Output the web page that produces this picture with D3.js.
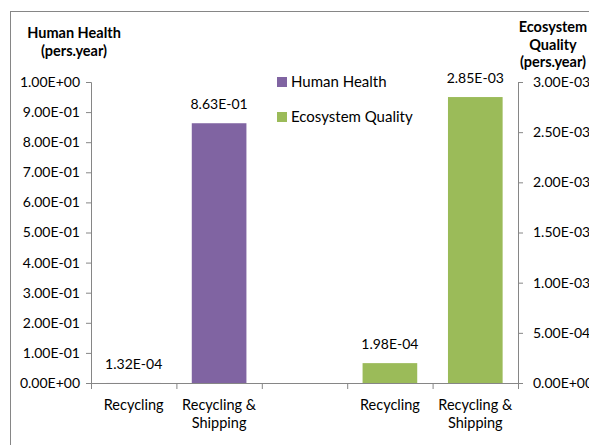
<!DOCTYPE html>
<html>
<head>
<meta charset="utf-8">
<script src="https://cdn.jsdelivr.net/npm/d3@7"></script>
<style>
  body { margin: 0; background: #fff; }
  text { font-family: Lato, "Open Sans", sans-serif; fill: #000; }
</style>
</head>
<body>
<svg id="chart" width="589" height="445"></svg>
<script>
    // data
    var slots = ["s1", "s2", "gap", "s4", "s5"];
    var slotLabels = [["Recycling"], ["Recycling &", "Shipping"], [""], ["Recycling"], ["Recycling &", "Shipping"]];
    var hhSlots = ["s1", "s2"];
    var hhValues = [1.32e-4, 0.863];
    var eqSlots = ["s4", "s5"];
    var eqValues = [1.98e-4, 2.85e-3];
    var leftTicks = [0, 0.1, 0.2, 0.3, 0.4, 0.5, 0.6, 0.7, 0.8, 0.9, 1.0];
    var rightTicks = [0, 5e-4, 1e-3, 1.5e-3, 2e-3, 2.5e-3, 3e-3];
    var seriesNames = ["Human Health", "Ecosystem Quality"];
    var colors = ["#8064A2", "#9BBB59"];

    var margin = { top: 82, bottom: 62, left: 91, right: 71 };
    var svg = d3.select("#chart");
    var w = +svg.attr("width");
    var h = +svg.attr("height");
    var width = w - margin.left - margin.right;
    var height = h - margin.top - margin.bottom;

    // Excel style scientific labels: 1.00E+00
    function sci(v) {
        var s = v.toExponential(2).split("e");
        var exp = +s[1];
        return s[0] + "E" + (exp < 0 ? "-" : "+") + (Math.abs(exp) < 10 ? "0" : "") + Math.abs(exp);
    }

    // chart frame
    svg.append("rect")
        .attr("x", 10.5).attr("y", 11.5)
        .attr("width", 700).attr("height", 500)
        .attr("fill", "none").attr("stroke", "#868686");

    var chart = svg.append("g")
        .attr("transform", "translate(" + margin.left + "," + margin.top + ")");

    var x = d3.scaleBand().domain(slots).range([0, width]).paddingInner(0.36).paddingOuter(0.18);
    var xTicks = d3.scaleBand().domain(slots).range([0, width]);
    var yL = d3.scaleLinear().domain([0, 1]).range([height, 0]);
    var yR = d3.scaleLinear().domain([0, 3e-3]).range([height, 0]);

    var axisColor = "#868686";

    // left axis
    var gl = chart.append("g").call(d3.axisLeft(yL).tickValues(leftTicks).tickFormat(sci).tickSize(5).tickPadding(6));
    // right axis
    var gr = chart.append("g").attr("transform", "translate(" + width + ",0)")
        .call(d3.axisRight(yR).tickValues(rightTicks).tickFormat(sci).tickSize(5).tickPadding(10));
    [gl, gr].forEach(function (g) {
        g.select(".domain").attr("stroke", axisColor);
        g.selectAll(".tick line").attr("stroke", axisColor);
        g.selectAll("text").style("font-family", "Lato, sans-serif").style("font-size", "14px").attr("fill", "#000");
    });

    // category axis
    var gx = chart.append("g").attr("transform", "translate(0," + height + ")");
    gx.append("line").attr("x1", 0).attr("x2", width).attr("y1", 0.5).attr("y2", 0.5).attr("stroke", axisColor);
    gx.selectAll(".ctick")
        .data(slots.concat(["end"]))
        .enter().append("line")
        .attr("x1", function (d, i) { return i * xTicks.step() + 0.5; })
        .attr("x2", function (d, i) { return i * xTicks.step() + 0.5; })
        .attr("y1", 0).attr("y2", 6)
        .attr("stroke", axisColor);
    gx.selectAll(".clabel")
        .data(slots)
        .enter().append("text")
        .attr("text-anchor", "middle")
        .attr("x", function (d) { return x(d) + x.bandwidth() / 2; })
        .attr("y", 27)
        .style("font-size", "14.5px")
        .each(function (d, i) {
            var t = d3.select(this);
            slotLabels[i].forEach(function (line, j) {
                t.append("tspan").attr("x", x(d) + x.bandwidth() / 2).attr("dy", j === 0 ? 0 : 18).text(line);
            });
        });

    // bars
    function drawSeries(keys, values, scale, color) {
        var data = keys.map(function (k, i) { return { key: k, value: values[i] }; });
        chart.selectAll(null).data(data).enter().append("rect")
            .attr("x", function (d) { return x(d.key); })
            .attr("y", function (d) { return scale(d.value); })
            .attr("width", x.bandwidth())
            .attr("height", function (d) { return height - scale(d.value); })
            .attr("fill", color);
        chart.selectAll(null).data(data).enter().append("text")
            .attr("text-anchor", "middle")
            .attr("x", function (d) { return x(d.key) + x.bandwidth() / 2; })
            .attr("y", function (d) { return scale(d.value) - 14; })
            .style("font-size", "14px")
            .text(function (d) { return sci(d.value); });
    }
    drawSeries(hhSlots, hhValues, yL, colors[0]);
    drawSeries(eqSlots, eqValues, yR, colors[1]);

    // legend
    var legend = svg.append("g").attr("transform", "translate(277,77)");
    seriesNames.forEach(function (name, i) {
        legend.append("rect").attr("x", 0).attr("y", i * 35).attr("width", 10).attr("height", 10).attr("fill", colors[i]);
        legend.append("text").attr("x", 14).attr("y", i * 35 + 10).style("font-size", "15px").text(name);
    });

    // axis titles
    var leftTitle = ["Human Health", "(pers.year)"];
    var rightTitle = ["Ecosystem", "Quality", "(pers.year)"];
    leftTitle.forEach(function (t, i) {
        svg.append("text").attr("x", 74).attr("y", 38 + i * 18).attr("text-anchor", "middle")
            .style("font-size", "14.5px").style("font-weight", "bold").text(t);
    });
    rightTitle.forEach(function (t, i) {
        svg.append("text").attr("x", 553).attr("y", 32 + i * 17.5).attr("text-anchor", "middle")
            .style("font-size", "14.5px").style("font-weight", "bold").text(t);
    });
</script>
</body>
</html>
